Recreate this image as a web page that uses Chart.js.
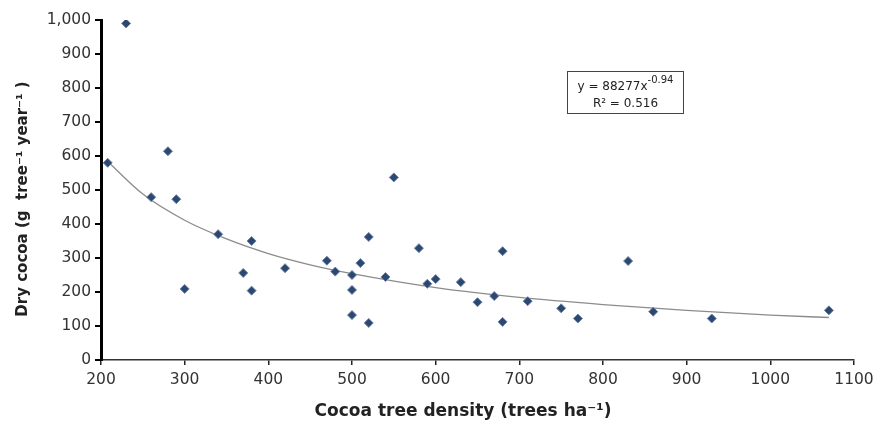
<!DOCTYPE html>
<html>
<head>
<meta charset="utf-8">
<script src="https://cdn.jsdelivr.net/npm/chart.js@4"></script>
<style>
  html, body { margin: 0; padding: 0; background: #fff; }
  #wrap { width: 881px; height: 426px; }
</style>
</head>
<body>
<div id="wrap"><canvas id="grafico"></canvas></div>
<script>
// densidade (arvores/ha) e producao (g/arvore/ano)
const densidade = [208, 230, 260, 280, 290, 300, 340, 370, 380, 380, 420, 470, 480, 500, 500, 500, 510, 520, 520, 540, 550, 580, 590, 600, 630, 650, 670, 680, 680, 710, 750, 770, 830, 860, 930, 1070];
const producao  = [580, 990, 479, 614, 473, 209, 370, 256, 350, 204, 270, 292, 260, 250, 206, 132, 285, 362, 109, 244, 537, 329, 224, 238, 229, 170, 188, 320, 112, 173, 152, 122, 291, 142, 122, 146];

// curva de tendencia (potencia)
const tendenciaX = [208, 250, 300, 350, 400, 450, 500, 600, 700, 800, 900, 1000, 1070];
const tendenciaY = [584, 488, 411, 356, 313, 280, 254, 213, 184, 163, 146, 132, 125];

const ticksX = [200, 300, 400, 500, 600, 700, 800, 900, 1000, 1100];

const fonteEixo = "'DejaVu Sans', sans-serif";

const pontos = densidade.map((d, i) => ({ x: d, y: producao[i] }));
const curva = tendenciaX.map((d, i) => ({ x: d, y: tendenciaY[i] }));

// titulos dos eixos e caixa da equacao
const extras = {
    id: 'extras',
    afterDraw(chart) {
        const ctx = chart.ctx;
        ctx.save();
        ctx.fillStyle = '#222';
        ctx.textAlign = 'center';
        ctx.textBaseline = 'middle';
        ctx.font = "bold 17px " + fonteEixo;
        ctx.fillText('Cocoa tree density (trees ha\u207B\u00B9)', 463, 412);
        ctx.translate(23, 199);
        ctx.rotate(-Math.PI / 2);
        ctx.font = "bold 15px " + fonteEixo;
        ctx.fillText('Dry cocoa (g  tree\u207B\u00B9 year\u207B\u00B9 )', 0, 0);
        ctx.restore();

        // caixa
        ctx.save();
        ctx.strokeStyle = '#444';
        ctx.lineWidth = 1;
        ctx.strokeRect(567.5, 71.5, 116, 42);
        ctx.fillStyle = '#222';
        ctx.textBaseline = 'alphabetic';
        const base = 'y = 88277x';
        const sup = '-0.94';
        ctx.font = "12px " + fonteEixo;
        const wBase = ctx.measureText(base).width;
        ctx.font = "10px " + fonteEixo;
        const wSup = ctx.measureText(sup).width;
        const sx = 625.5 - (wBase + wSup) / 2;
        ctx.font = "12px " + fonteEixo;
        ctx.textAlign = 'left';
        ctx.fillText(base, sx, 90);
        ctx.font = "10px " + fonteEixo;
        ctx.fillText(sup, sx + wBase, 83);
        ctx.font = "12px " + fonteEixo;
        ctx.textAlign = 'center';
        ctx.fillText('R\u00B2 = 0.516', 625.5, 107);
        ctx.restore();
    }
};

new Chart(document.getElementById('grafico'), {
    type: 'scatter',
    data: {
        datasets: [{
            label: 'Dry cocoa',
            data: pontos,
            pointStyle: 'rectRot',
            pointRadius: 4.5,
            backgroundColor: '#2C4870',
            borderColor: '#6A82A6',
            borderWidth: 1,
            order: 1
        }, {
            label: 'Tendencia',
            data: curva,
            showLine: true,
            pointRadius: 0,
            borderColor: '#8C8C8C',
            borderWidth: 1.3,
            cubicInterpolationMode: 'monotone',
            fill: false,
            order: 2
        }]
    },
    plugins: [extras],
    options: {
        responsive: true,
        maintainAspectRatio: false,
        animation: false,
        layout: {
            padding: { top: 20, right: 27, left: 0, bottom: 0 }
        },
        plugins: {
            legend: { display: false },
            tooltip: { enabled: false }
        },
        scales: {
            x: {
                type: 'linear',
                min: 200,
                max: 1100,
                afterFit: s => { s.height = 66; },
                afterBuildTicks: s => { s.ticks = ticksX.map(v => ({ value: v })); },
                border: { color: '#333', width: 1.5 },
                grid: {
                    drawOnChartArea: false,
                    drawTicks: true,
                    tickLength: 5,
                    tickColor: '#222',
                    lineWidth: 1.5
                },
                ticks: {
                    color: '#333',
                    padding: 6,
                    font: { family: fonteEixo, size: 15.5 },
                    maxRotation: 0,
                    callback: v => String(v)
                }
            },
            y: {
                min: 0,
                max: 1000,
                afterFit: s => { s.width = 101; },
                border: { color: '#000', width: 3 },
                grid: {
                    drawOnChartArea: false,
                    drawTicks: true,
                    tickLength: 6,
                    tickColor: '#000',
                    lineWidth: 2
                },
                ticks: {
                    stepSize: 100,
                    color: '#333',
                    padding: 4,
                    font: { family: fonteEixo, size: 15.5 },
                    callback: v => v.toLocaleString('en-US')
                }
            }
        }
    }
});
</script>
</body>
</html>
